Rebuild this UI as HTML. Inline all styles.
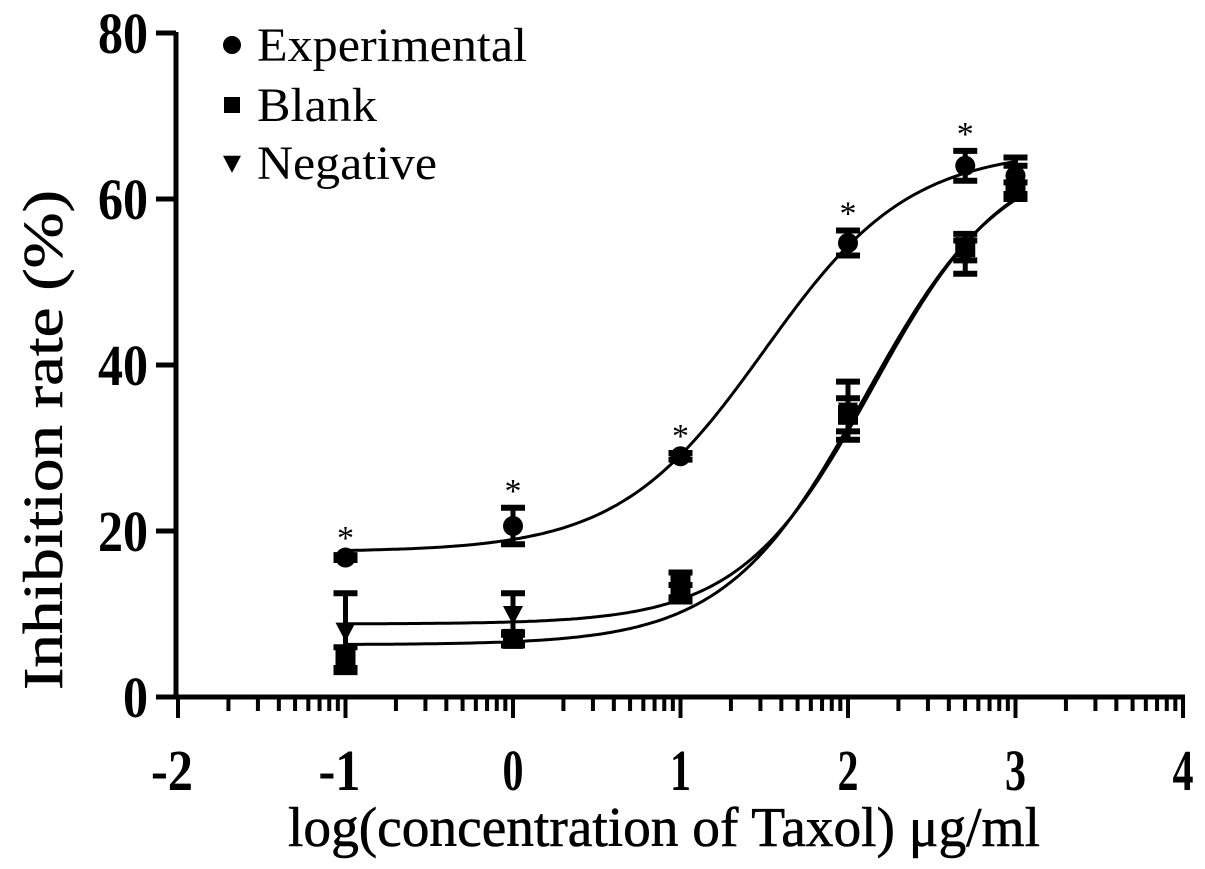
<!DOCTYPE html>
<html><head><meta charset="utf-8"><style>
html,body{margin:0;padding:0;background:#fff}
svg{display:block}
text{font-family:"Liberation Serif","DejaVu Serif",serif;fill:#000}
</style></head><body>
<svg id="chart" width="1205" height="869" viewBox="0 0 1205 869" xmlns="http://www.w3.org/2000/svg">
<g id="axes"></g>
<g id="curves"></g>
<g id="points"></g>
<g id="legend"></g>
<text x="664" y="846" font-size="56" text-anchor="middle" textLength="752" lengthAdjust="spacingAndGlyphs" stroke="#000" stroke-width="0.6">log(concentration of Taxol) μg/ml</text>
<text transform="translate(62,440) rotate(-90)" font-size="56" text-anchor="middle" textLength="500" lengthAdjust="spacingAndGlyphs" stroke="#000" stroke-width="0.6">Inhibition rate (%)</text>
</svg>
<script>
const xTicks = [-2, -1, 0, 1, 2, 3, 4];
const yTicks = [0, 20, 40, 60, 80];
const xValues = [-1, 0, 1, 2, 2.7, 3];
const expVals = [16.8, 20.6, 29.0, 54.7, 64.0, 62.8];
const expErr  = [0.3, 2.2, 0.4, 1.5, 1.8, 2.2];
const blankVals = [4.5, 7.0, 13.5, 34.0, 54.2, 61.0];
const blankErr  = [1.5, 0.8, 1.5, 2.0, 1.6, 1.0];
const negVals = [8.0, 10.0, 12.5, 34.5, 53.0, 62.0];
const negErr  = [4.5, 2.5, 1.0, 3.5, 2.0, 2.0];
const expFit = [17.5, 66, 1.5, 1.0];     // bottom, top, logEC50, hill
const blankFit = [6.3, 66, 2.1, 1.05];
const negFit = [8.8, 66, 2.15, 1.1];
const starIdx = [0, 1, 2, 3, 4];

const NS = 'http://www.w3.org/2000/svg';
const X = v => 178 + (v + 2) * 167.5;
const Y = v => 697 - v * 8.3;
function mk(tag, attrs, parent){const e=document.createElementNS(NS,tag);for(const k in attrs)e.setAttribute(k,attrs[k]);parent.appendChild(e);return e;}
const axes=document.getElementById('axes'),curves=document.getElementById('curves'),pts=document.getElementById('points'),leg=document.getElementById('legend');

let l=mk('line',{x1:176,y1:32,x2:176,y2:699,stroke:'#000','stroke-width':5},axes);


l=mk('line',{x1:174,y1:697,x2:1185,y2:697,stroke:'#000','stroke-width':5},axes);


yTicks.forEach(t=>{
  const tk=mk('line',{x1:156,y1:Y(t),x2:176,y2:Y(t),stroke:'#000','stroke-width':5},axes);
  
  
  const s=String(t);
  const tx=mk('text',{x:148,y:Y(t)+20,'font-size':58,'font-weight':'bold','text-anchor':'end',textLength:s.length*25,lengthAdjust:'spacingAndGlyphs'},axes);
  tx.textContent=s;
  
  
});
xTicks.forEach((t,i)=>{
  const tk=mk('line',{x1:X(t),y1:697,x2:X(t),y2:718,stroke:'#000','stroke-width':4},axes);
  
  
  const s=String(t);
  const tx=mk('text',{x:X(t)+(t<0?-6:0),y:790,'font-size':58,'font-weight':'bold','text-anchor':'middle',textLength:s.length*21,lengthAdjust:'spacingAndGlyphs'},axes);
  tx.textContent=s;
  
  
  if(i<xTicks.length-1){
    for(let m=2;m<=9;m++){
      const mx=X(t+Math.log10(m));
      const mt=mk('line',{x1:mx,y1:697,x2:mx,y2:711,stroke:'#000','stroke-width':4},axes);
      
      
    }
  }
});

function fitPath(p){let d='';for(let x=-1;x<=3.0001;x+=0.02){const y=p[0]+(p[1]-p[0])/(1+Math.pow(10,(p[2]-x)*p[3]));d+=(d?'L':'M')+X(x).toFixed(1)+','+Y(y).toFixed(1);}return d;}
[[expFit,'experimental-fit-curve'],[blankFit,'blank-fit-curve'],[negFit,'negative-fit-curve']].forEach(([p,n])=>{
  const c=mk('path',{d:fitPath(p),fill:'none',stroke:'#000','stroke-width':3},curves);
  
  
});

function errBar(x,v,e,n){
  const g=mk('g',{},pts);
  
  
  mk('line',{x1:X(x),y1:Y(v+e),x2:X(x),y2:Y(v-e),stroke:'#000','stroke-width':5},g);
  mk('line',{x1:X(x)-12,y1:Y(v+e),x2:X(x)+12,y2:Y(v+e),stroke:'#000','stroke-width':6},g);
  mk('line',{x1:X(x)-12,y1:Y(v-e),x2:X(x)+12,y2:Y(v-e),stroke:'#000','stroke-width':6},g);
}
function marker(type,cx,cy,s,parent){
  let m;
  if(type==='circle') m=mk('circle',{cx:cx,cy:cy,r:s},parent);
  else if(type==='square') m=mk('rect',{x:cx-s,y:cy-s,width:2*s,height:2*s},parent);
  else m=mk('polygon',{points:`${cx-s},${cy-s*0.8} ${cx+s},${cy-s*0.8} ${cx},${cy+s*1.1}`},parent);
  return m;
}
[[negVals,negErr,'tri','negative'],[blankVals,blankErr,'square','blank'],[expVals,expErr,'circle','experimental']].forEach(([vals,errs,type,n])=>{
  xValues.forEach((x,i)=>{
    errBar(x,vals[i],errs[i],n+'-error-bar');
    const m=marker(type,X(x),Y(vals[i]),10,pts);
    
    
  });
});
starIdx.forEach(i=>{
  const s=mk('text',{x:X(xValues[i]),y:Y(expVals[i]+expErr[i])-6,'font-size':34,'text-anchor':'middle'},pts);
  s.textContent='*';
  
  
});

[['circle','Experimental',45,270],['square','Blank',105,120],['tri','Negative',163,180]].forEach(([t,label,y,w])=>{
  const g=mk('g',{},leg);
  
  
  marker(t,232,y,t==='square'?8:9,g);
  const tx=mk('text',{x:257,y:y+16,'font-size':48,textLength:w,lengthAdjust:'spacingAndGlyphs'},g);
  tx.textContent=label;
});
</script>
</body></html>
